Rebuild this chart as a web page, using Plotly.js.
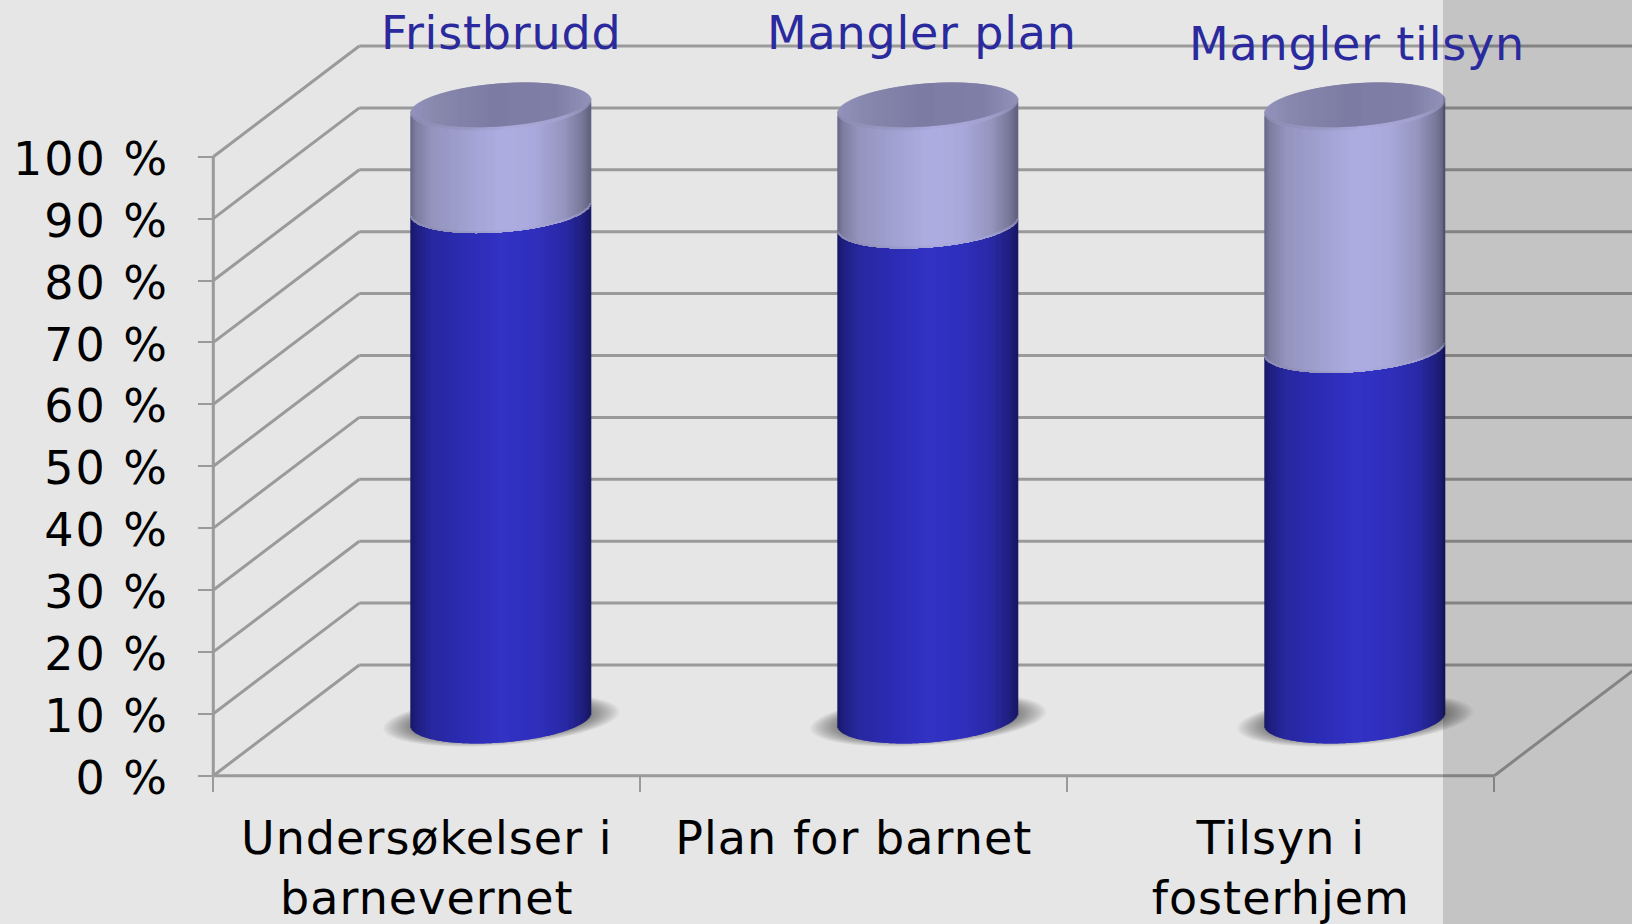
<!DOCTYPE html>
<html>
<head>
<meta charset="utf-8">
<script src="https://cdn.plot.ly/plotly-3.0.1.min.js"></script>
<style>
html,body{margin:0;padding:0;background:#e6e6e6;overflow:hidden}
#chart{width:1632px;height:924px}
.ytick text{letter-spacing:2px}
.xtick text{letter-spacing:1.05px}
.annotation-text{letter-spacing:0.8px}
</style>
</head>
<body>
<div id="chart"></div>
<script>
// ---- chart data ----
const categories = ['Undersøkelser i<br>barnevernet', 'Plan for barnet', 'Tilsyn i<br>fosterhjem'];
const seriesNames = ['Fristbrudd', 'Mangler plan', 'Mangler tilsyn'];
const lowerValues = [83.3, 80.8, 60.5];
const upperValues = [16.7, 19.2, 39.5];
const yTicks = [0, 10, 20, 30, 40, 50, 60, 70, 80, 90, 100];
const yTickLabels = ['0 %', '10 %', '20 %', '30 %', '40 %', '50 %', '60 %', '70 %', '80 %', '90 %', '100 %'];
const xBoundaries = [0, 1, 2, 3];

// ---- geometry of the pseudo-3D view (style, in axis units) ----
const W = 1632, H = 924;
const axisLeft = 213.3, axisBottom = 775.7;
const pxX = 427, pxY = 6.19;
const depthX = 146 / pxX, depthY = 110.7 / pxY;
const centerShift = 0.6725, halfW = 90 / pxX;
const floorOffset = 9.1, capB = 3.75, capK = 1.05, heightScale = 0.99;
const nStrips = 180;
const pad = 10;
const xMax = (W - axisLeft) / pxX, yMax = axisBottom / pxY;

function lerpStops(stops, t) {
  for (let i = 1; i < stops.length; i++) {
    if (t <= stops[i][0]) {
      const a = stops[i - 1], b = stops[i], f = (t - a[0]) / (b[0] - a[0]);
      const c = [0, 1, 2].map(n => Math.round(a[1][n] + (b[1][n] - a[1][n]) * f));
      return 'rgb(' + c.join(',') + ')';
    }
  }
  const l = stops[stops.length - 1][1];
  return 'rgb(' + l.join(',') + ')';
}
const darkStops = [[0,[24,24,104]],[0.04,[32,32,130]],[0.12,[40,40,160]],[0.3,[44,44,180]],[0.5,[50,50,196]],[0.68,[48,48,190]],[0.85,[42,42,168]],[0.95,[32,32,130]],[1,[24,24,100]]];
const lightStops = [[0,[100,100,135]],[0.03,[125,125,160]],[0.12,[148,148,190]],[0.3,[160,160,208]],[0.5,[173,173,226]],[0.68,[170,170,222]],[0.85,[150,150,192]],[0.95,[122,122,156]],[1,[96,96,128]]];
const capStops = [[0,[146,146,188]],[0.15,[136,136,174]],[0.45,[124,124,164]],[0.8,[126,126,166]],[1,[146,146,186]]];
const rimStops = [[0,[138,138,176]],[0.3,[152,152,198]],[0.55,[170,170,222]],[0.85,[160,160,206]],[1,[136,136,174]]];

function blank() { return {x: [], y: [], base: [], color: []}; }
const dark = blank(), light = blank(), seam = blank(), rim = blank(), cap = blank();
function push(t, x, base, h, c) { t.x.push(x); t.base.push(base); t.y.push(h); t.color.push(c); }

categories.forEach((_, i) => {
  const cx = i + centerShift;
  for (let j = 0; j < nStrips; j++) {
    const t = (j + 0.5) / nStrips, u = 2 * t - 1;
    const sq = Math.sqrt(1 - u * u);
    const front = capK * u - capB * sq;
    const x = cx + u * halfW;
    const lowH = lowerValues[i] * heightScale, upH = upperValues[i] * heightScale;
    push(dark, x, floorOffset + front, lowH, lerpStops(darkStops, t));
    push(light, x, floorOffset + lowH + front, upH, lerpStops(lightStops, t));
    push(seam, x, floorOffset + lowH + front, 0.25, lerpStops(rimStops, t));
    const top = floorOffset + lowH + upH + front;
    const capH = 2 * capB * sq;
    const rimH = Math.min(0.55, capH);
    push(rim, x, top, rimH, lerpStops(rimStops, t));
    push(cap, x, top + rimH, capH - rimH, lerpStops(capStops, t));
  }
});

function barTrace(t, name) {
  return {type: 'bar', name: name, x: t.x, y: t.y, base: t.base, width: 1.25 / pxX,
    marker: {color: t.color, line: {width: 0}}, hoverinfo: 'skip', showlegend: false};
}
const traces = [barTrace(dark, 'Oppfylt'), barTrace(light, 'Brudd'), barTrace(seam, 'kant'), barTrace(rim, 'kant topp'), barTrace(cap, 'topp')];

// ---- wall lines, floor lines and shadows as shapes below the bars ----
const lineStyle = {color: '#9a9a9a', width: 3};
const shapes = [];
function seg(x0, y0, x1, y1) {
  shapes.push({type: 'line', xref: 'x', yref: 'y', x0, y0, x1, y1, layer: 'below', line: lineStyle});
}
yTicks.forEach(v => {
  seg(0, v, depthX, v + depthY);
  seg(depthX, v + depthY, xMax + 0.05, v + depthY);
});
seg(0, 0, 0, 100);
seg(0, 0, xBoundaries[3], 0);
seg(xBoundaries[3], 0, xBoundaries[3] + depthX, depthY);

categories.forEach((_, i) => {
  const cx = i + centerShift + 0.002;
  const cy = floorOffset - 0.1;
  for (let n = 0; n < 14; n++) {
    const s = 1 - n * 0.022;
    let p = '';
    for (let a = 0; a < 48; a++) {
      const th = a / 48 * 2 * Math.PI;
      const ux = Math.cos(th) * s;
      const X = cx + ux * 118 / pxX;
      const Y = cy + (ux * 1.35) + Math.sin(th) * s * 4.1;
      p += (a ? 'L' : 'M') + X.toFixed(4) + ',' + Y.toFixed(3);
    }
    shapes.push({type: 'path', xref: 'x', yref: 'y', path: p + 'Z', layer: 'below',
      fillcolor: 'rgba(0,0,0,0.045)', line: {width: 0}});
  }
});

// shaded band on the right, over the marks
shapes.push({type: 'rect', xref: 'paper', yref: 'paper', x0: 1443 / W, x1: 1, y0: 0, y1: 1, layer: 'above',
  fillcolor: 'rgba(0,0,0,0.145)', line: {width: 0}});

const textFont = {family: '"DejaVu Sans", Verdana, sans-serif', size: 46, color: '#000000'};
const headFont = {family: '"DejaVu Sans", Verdana, sans-serif', size: 46, color: '#2a2a9e'};
const headX = [500.6, 922, 1357], headY = [33, 33, 44];
const annotations = seriesNames.map((s, i) => ({
  text: s, showarrow: false, xref: 'paper', yref: 'paper',
  x: headX[i] / W, y: 1 - headY[i] / H, xanchor: 'center', yanchor: 'middle', font: headFont
}));

const plotLeft = axisLeft - pad, plotBottom = axisBottom + pad;
const layout = {
  width: W, height: H,
  margin: {l: 0, r: 0, t: 0, b: 0, pad: 0},
  paper_bgcolor: '#e6e6e6', plot_bgcolor: 'rgba(0,0,0,0)',
  barmode: 'overlay', showlegend: false,
  xaxis: {
    domain: [plotLeft / W, 1], range: [-pad / pxX, xMax], anchor: 'free', position: (H - axisBottom) / H,
    tickmode: 'array', tickvals: [0.5, 1.5, 2.5], ticktext: categories, ticks: '',
    showgrid: false, zeroline: false, showline: false, tickangle: 0,
    tickfont: textFont, ticklabelstandoff: 31,
    minor: {ticks: 'outside', ticklen: 15, tickwidth: 2.4, tickcolor: '#9a9a9a', tickmode: 'array', tickvals: xBoundaries, showgrid: false}
  },
  yaxis: {
    domain: [(H - plotBottom) / H, 1], range: [-pad / pxY, yMax], anchor: 'free', position: axisLeft / W,
    tickmode: 'array', tickvals: yTicks, ticktext: yTickLabels, ticks: 'outside', ticklen: 15, tickwidth: 2.4, tickcolor: '#9a9a9a',
    showgrid: false, zeroline: false, showline: false,
    tickfont: textFont, ticklabelstandoff: 20, ticklabelshift: 2
  },
  shapes, annotations
};
Plotly.newPlot('chart', traces, layout, {displayModeBar: false, responsive: false});
</script>
</body>
</html>
